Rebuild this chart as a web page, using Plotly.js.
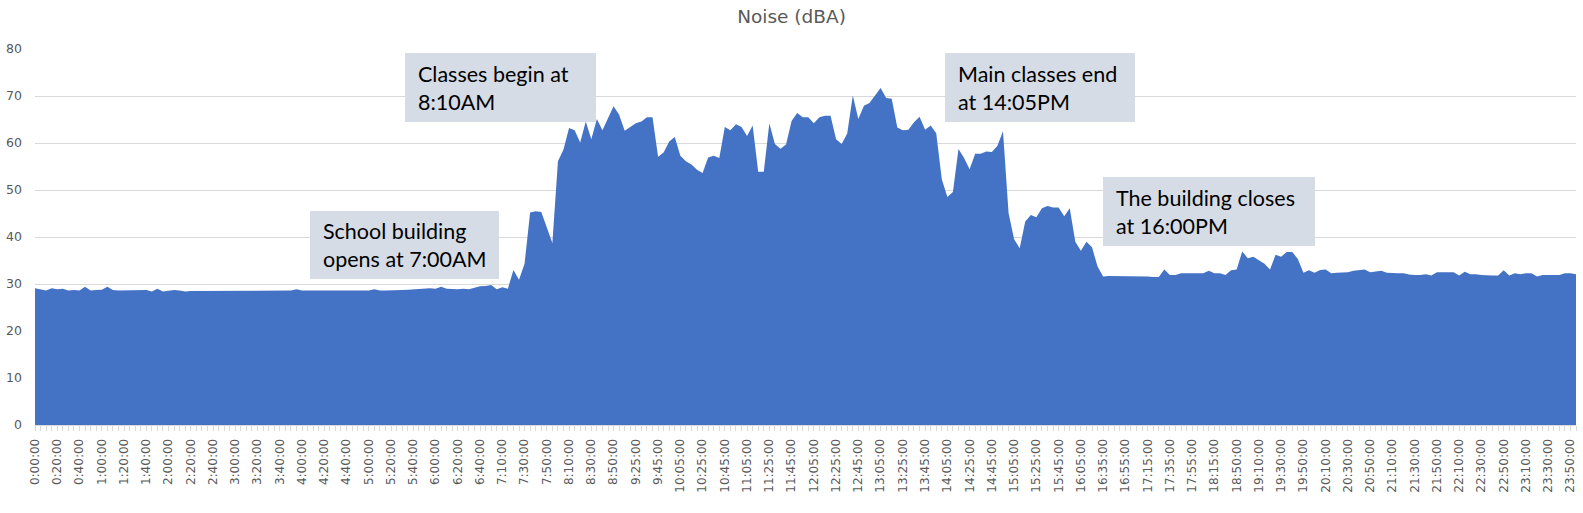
<!DOCTYPE html>
<html>
<head>
<meta charset="utf-8">
<script src="https://cdn.plot.ly/plotly-3.0.1.min.js"></script>
<style>
  html, body { margin: 0; padding: 0; background: #ffffff; }
  #chart { width: 1583px; height: 513px; }
</style>
</head>
<body>
<div id="chart"></div>
<script>
// Recorded time ranges (5-minute readings; some readings are missing)
const timeSegments = [
  ["0:00:00", "6:55:00"],
  ["7:10:00", "9:05:00"],
  ["9:25:00", "16:20:00"],
  ["16:35:00", "18:30:00"],
  ["18:50:00", "23:55:00"]
];

// Noise level readings (dBA), one per time category
const noise = [
  29.1, 28.9, 28.6, 29.1, 28.9, 29.0, 28.6, 28.7, 28.6, 29.4,
  28.6, 28.7, 28.8, 29.4, 28.7, 28.6, 28.6, 28.6, 28.6, 28.7,
  28.7, 28.4, 29.0, 28.4, 28.6, 28.7, 28.6, 28.4, 28.5, 28.5,
  28.6, 28.6, 28.6, 28.6, 28.6, 28.6, 28.6, 28.6, 28.6, 28.6,
  28.6, 28.6, 28.6, 28.6, 28.6, 28.6, 28.6, 28.9, 28.6, 28.6,
  28.6, 28.6, 28.6, 28.6, 28.6, 28.6, 28.6, 28.6, 28.6, 28.6,
  28.6, 28.9, 28.6, 28.6, 28.6, 28.6, 28.7, 28.8, 28.9, 29.0,
  29.0, 29.1, 29.0, 29.4, 29.0, 28.9, 28.9, 29.0, 28.9, 29.2,
  29.5, 29.6, 29.8, 28.9, 29.3, 29.0, 33.0, 30.9, 34.3, 45.2,
  45.5, 45.3, 42.2, 38.7, 56.1, 58.6, 63.2, 62.7, 60.1, 64.6,
  60.8, 65.1, 62.7, 65.3, 67.8, 66.0, 62.6, 63.4, 64.2, 64.6,
  65.5, 65.5, 57.1, 58.0, 60.3, 61.3, 57.3, 56.1, 55.4, 54.3,
  53.6, 56.9, 57.3, 56.8, 63.4, 62.7, 64.0, 63.4, 61.5, 63.7,
  53.9, 53.9, 64.2, 59.8, 58.8, 59.7, 64.7, 66.4, 65.5, 65.5,
  64.2, 65.5, 65.8, 65.8, 60.8, 59.8, 62.0, 70.1, 65.1, 67.9,
  68.5, 70.1, 71.7, 69.6, 69.4, 63.3, 62.7, 62.8, 64.4, 65.6,
  62.8, 63.7, 62.1, 52.3, 48.5, 49.6, 58.7, 56.8, 54.4, 57.7,
  57.7, 58.2, 58.1, 59.4, 62.5, 45.1, 39.5, 37.6, 43.3, 44.7,
  44.2, 46.1, 46.6, 46.3, 46.3, 44.4, 46.1, 39.0, 37.1, 39.0,
  37.8, 33.7, 31.6, 31.7, 31.7, 31.6, 31.7, 31.6, 31.6, 31.6,
  31.6, 31.5, 31.5, 33.1, 31.9, 31.9, 32.3, 32.3, 32.3, 32.3,
  32.3, 32.8, 32.3, 32.3, 31.9, 32.9, 33.1, 36.9, 35.5, 35.8,
  35.1, 34.3, 33.1, 36.2, 35.8, 36.8, 36.8, 35.3, 32.4, 32.9,
  32.4, 33.0, 33.1, 32.3, 32.4, 32.5, 32.5, 32.8, 32.9, 33.1,
  32.5, 32.6, 32.8, 32.4, 32.3, 32.3, 32.3, 32.0, 31.9, 31.9,
  32.1, 31.8, 32.5, 32.5, 32.5, 32.5, 31.8, 32.6, 32.1, 32.1,
  31.9, 31.8, 31.8, 31.8, 32.9, 31.8, 32.3, 32.1, 32.3, 32.3,
  31.6, 31.9, 31.9, 31.9, 31.9, 32.3, 32.3, 32.1
];

const yTicks = [0, 10, 20, 30, 40, 50, 60, 70, 80];

const notes = [
  "Classes begin at<br>8:10AM",
  "School building<br>opens at 7:00AM",
  "Main classes end<br>at 14:05PM",
  "The building closes<br>at 16:00PM"
];

// Build category labels (H:MM:SS) from the recorded ranges
function toMin(s) { const p = s.split(":").map(Number); return p[0] * 60 + p[1]; }
function fmt(m) { const h = Math.floor(m / 60), mm = m % 60; return h + ":" + String(mm).padStart(2, "0") + ":00"; }
const times = [];
timeSegments.forEach(([a, b]) => {
  for (let m = toMin(a); m <= toMin(b); m += 5) times.push(fmt(m));
});

// Layout geometry (pixels of the 1583x513 canvas)
const W = 1583, H = 513;
const L = 35, R = 7, T = 49, B = 88;
const pw = W - L - R, ph = H - T - B;
const px = x => (x - L) / pw;
const py = y => (H - B - y) / ph;

const boxes = [
  { x0: 405, x1: 596, y0: 53, y1: 122 },
  { x0: 310, x1: 499, y0: 211, y1: 279 },
  { x0: 945, x1: 1135, y0: 53, y1: 122 },
  { x0: 1103, x1: 1315, y0: 177, y1: 246 }
];

const shapes = boxes.map(b => ({
  type: "rect", xref: "paper", yref: "paper",
  x0: px(b.x0), x1: px(b.x1), y0: py(b.y1), y1: py(b.y0),
  fillcolor: "#d6dce5", line: { width: 0 }, layer: "above"
}));

const annotations = boxes.map((b, i) => ({
  xref: "paper", yref: "paper",
  x: px(b.x0 + 11), y: py((b.y0 + b.y1) / 2),
  xanchor: "left", yanchor: "middle", align: "left",
  text: notes[i], showarrow: false,
  font: { family: "Lato, 'Open Sans', sans-serif", size: 21.5, color: "#000000" }
}));

const trace = {
  x: times, y: noise, type: "scatter", mode: "lines",
  fill: "tozeroy", fillcolor: "#4472c4",
  line: { width: 0, color: "#4472c4" },
  hoverinfo: "x+y", showlegend: false
};
const tickTrace = {
  x: times, y: noise, type: "scatter", mode: "none",
  xaxis: "x2", hoverinfo: "skip", showlegend: false
};

const tickFont = { family: "'DejaVu Sans', sans-serif", size: 12, color: "#595959" };

const layout = {
  width: W, height: H,
  margin: { l: L, r: R, t: T, b: B, pad: 0 },
  paper_bgcolor: "#ffffff", plot_bgcolor: "#ffffff",
  title: {
    text: "Noise (dBA)",
    x: 0.5, xref: "container", xanchor: "center",
    y: 1 - 17 / H, yref: "container", yanchor: "middle",
    font: { family: "'DejaVu Sans', sans-serif", size: 18.5, color: "#595959" }
  },
  xaxis: {
    type: "category", categoryorder: "array", categoryarray: times,
    range: [0, times.length - 1],
    tickmode: "linear", tick0: 0, dtick: 4,
    tickangle: -90, ticks: "", ticklabelstandoff: 8,
    tickfont: tickFont,
    showgrid: false, zeroline: false,
    showline: true, linecolor: "#d9d9d9", linewidth: 1,
    fixedrange: true
  },
  xaxis2: {
    type: "category", categoryorder: "array", categoryarray: times,
    overlaying: "x", anchor: "y", side: "bottom",
    range: [0, times.length - 1],
    tickmode: "linear", tick0: 0, dtick: 1,
    ticks: "outside", ticklen: 5, tickwidth: 1, tickcolor: "#d9d9d9",
    showticklabels: false, showgrid: false, zeroline: false, showline: false,
    fixedrange: true
  },
  yaxis: {
    range: [0, 80], tickmode: "array", tickvals: yTicks,
    ticks: "", ticklabelstandoff: 12,
    tickfont: { family: "'DejaVu Sans', sans-serif", size: 12.5, color: "#595959" },
    showgrid: true, gridcolor: "#d9d9d9", gridwidth: 1,
    zeroline: false, showline: false, fixedrange: true
  },
  shapes: shapes,
  annotations: annotations,
  showlegend: false
};

Plotly.newPlot("chart", [trace, tickTrace], layout, { displayModeBar: false, staticPlot: true });
</script>
</body>
</html>
